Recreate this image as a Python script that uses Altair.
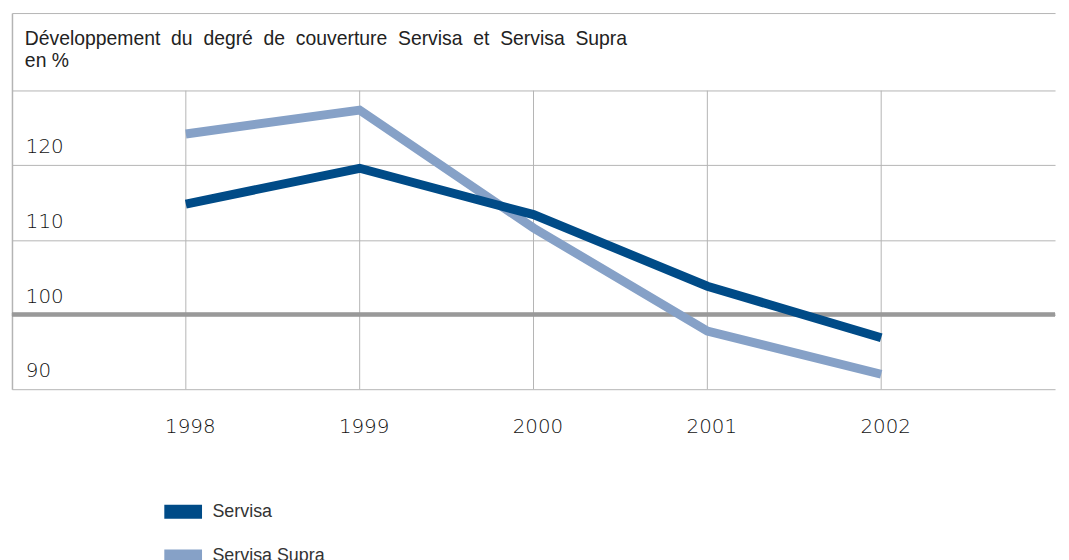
import altair as alt
import pandas as pd

years = [1998, 1999, 2000, 2001, 2002]
servisa = [114.8, 119.6, 113.4, 103.8, 96.9]
servisa_supra = [124.2, 127.4, 111.6, 97.8, 92.0]
series_names = ["Servisa", "Servisa Supra"]
series_colors = ["#004b87", "#86a1c7"]
y_label_values = [90, 100, 110, 120]
grid_values = [90, 100, 110, 120, 130, 140.4]
title_lines = ["Développement du degré de couverture Servisa et Servisa Supra", "en %"]

rows = []
for name, vals in zip(series_names, [servisa, servisa_supra]):
    for yr, v in zip(years, vals):
        rows.append({"series": name, "year": yr, "value": v})
df = pd.DataFrame(rows)
years_df = pd.DataFrame({"year": years})
ylab_df = pd.DataFrame({"v": y_label_values, "t": [str(v) for v in y_label_values]})
title_df = pd.DataFrame({"k": [0]})
# widen word gaps of the first line like the reference's justified title
title_display = [title_lines[0].replace(" ", " \u00a0"), title_lines[1]]

xs = alt.Scale(domain=[1997, 2003], nice=False, zero=False)
ys = alt.Scale(domain=[90, 140.4], nice=False, zero=False)
NUMFONT = "DejaVu Sans"
NUMSIZE = 20
NUMWEIGHT = 300
NUMCOLOR = "#111111"
GRID = "#b4b4b4"

x_axis = alt.Axis(
    values=years,
    format="d",
    grid=False,
    ticks=False,
    domain=False,
    title=None,
    labelFont=NUMFONT,
    labelFontSize=NUMSIZE,
    labelFontWeight=NUMWEIGHT,
    labelColor=NUMCOLOR,
    labelBaseline="middle",
    labelPadding=38,
    labelOffset=4,
)
y_axis = alt.Axis(
    values=grid_values,
    labels=False,
    ticks=False,
    grid=True,
    gridColor=GRID,
    gridWidth=1,
    domain=True,
    domainColor=GRID,
    domainWidth=1.5,
    title=None,
)

vrules = alt.Chart(years_df).mark_rule(color=GRID, strokeWidth=1).encode(
    x=alt.X("year:Q", scale=xs, axis=x_axis),
    y=alt.YDatum(90, scale=ys, axis=y_axis),
    y2=alt.Y2Datum(130),
)

color = alt.Color(
    "series:N",
    scale=alt.Scale(domain=series_names, range=series_colors),
    legend=alt.Legend(
        title=None,
        orient="none",
        direction="vertical",
        legendX=156,
        legendY=486,
        symbolType="M-2,0H2",
        symbolSize=361,
        symbolStrokeWidth=14,
        labelFontSize=18,
        labelFont="Liberation Sans",
        labelColor="#333333",
        labelOffset=13,
        rowPadding=-22,
    ),
)

base_line = alt.Chart(df).encode(
    x=alt.X("year:Q", scale=xs, axis=x_axis),
    y=alt.Y("value:Q", scale=ys, axis=y_axis),
    color=color,
)

supra_line = base_line.transform_filter(alt.datum.series == "Servisa Supra").mark_line(
    strokeWidth=9, strokeCap="butt", strokeJoin="miter"
)
servisa_line = base_line.transform_filter(alt.datum.series == "Servisa").mark_line(
    strokeWidth=9, strokeCap="butt", strokeJoin="miter"
)

rule100 = alt.Chart(years_df).mark_rule(color="#999999", strokeWidth=3.5).encode(
    y=alt.YDatum(100, scale=ys, axis=y_axis)
)

ylabels = alt.Chart(ylab_df).mark_text(
    align="left", baseline="alphabetic", dy=-12, font=NUMFONT, fontSize=NUMSIZE,
    fontWeight=NUMWEIGHT, color=NUMCOLOR
).encode(
    x=alt.value(14),
    y=alt.Y("v:Q", scale=ys, axis=y_axis),
    text="t:N",
)

title = alt.Chart(title_df).mark_text(
    align="left",
    baseline="middle",
    font="Liberation Sans",
    fontSize=19.5,
    lineHeight=22,
    color="#222222",
    text=title_display,
).encode(x=alt.value(13), y=alt.value(26))

chart = (
    alt.layer(vrules, rule100, supra_line, servisa_line, ylabels, title)
    .properties(
        width=1051,
        height=379,
        autosize=alt.AutoSizeParams(type="none"),
        padding={"left": 4, "top": 3, "right": 6, "bottom": 170},
    )
    .configure_view(stroke=None)
)

chart.save("out.html", embed_options={"renderer": "svg", "actions": False})
